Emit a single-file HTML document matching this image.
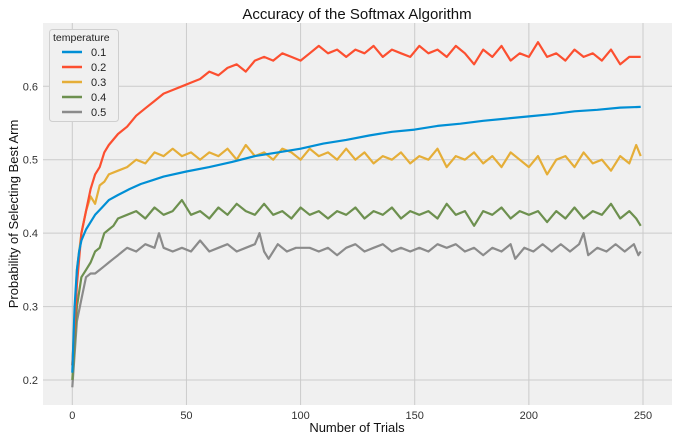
<!DOCTYPE html>
<html><head><meta charset="utf-8"><style>
body{margin:0;background:#fff;}
svg{display:block;font-family:"Liberation Sans","DejaVu Sans",sans-serif;}
</style></head><body>
<svg id="chart" width="677" height="442">
<rect x="43" y="23" width="629" height="382" fill="#f0f0f0"/>
<g id="grid"></g>
<g id="lines"></g>
<text x="357" y="19" text-anchor="middle" font-size="15" fill="#111">Accuracy of the Softmax Algorithm</text>
<text x="357" y="432" text-anchor="middle" font-size="13" fill="#111">Number of Trials</text>
<text transform="translate(18,214) rotate(-90)" text-anchor="middle" font-size="13" fill="#111">Probability of Selecting Best Arm</text>
<g id="legend">
<rect x="49.5" y="29.5" width="69" height="92" rx="3" fill="#f0f0f0" stroke="#cfcfcf"/>
<text x="53" y="41" font-size="10.5" fill="#222">temperature</text>
</g>
</svg>
<script>
const NS="http://www.w3.org/2000/svg";
const xTicks=[0,50,100,150,200,250];
const yTicks=[0.2,0.3,0.4,0.5,0.6];
const labels=["0.1","0.2","0.3","0.4","0.5"];
const colors=["#008fd5","#fc4f30","#e5ae38","#6d904f","#8b8b8b"];
const blueX=[0,1,2,3,4,6,8,10,13,16,20,25,30,35,40,50,60,70,80,90,100,110,120,130,140,150,160,170,180,190,200,210,220,230,240,249];
const blueY=[0.21,0.30,0.35,0.375,0.39,0.405,0.415,0.425,0.435,0.445,0.452,0.46,0.467,0.472,0.477,0.484,0.49,0.497,0.505,0.51,0.515,0.522,0.527,0.533,0.538,0.541,0.546,0.549,0.553,0.556,0.559,0.562,0.566,0.568,0.571,0.572];
const redX=[0,2,4,6,8,10,12,14,16,20,24,28,32,36,40,44,48,52,56,60,64,68,72,76,80,84,88,92,96,100,104,108,112,116,120,124,128,132,136,140,144,148,152,156,160,164,168,172,176,180,184,188,192,196,200,204,208,212,216,220,224,228,232,236,240,244,249];
const redY=[0.22,0.33,0.40,0.43,0.46,0.48,0.49,0.51,0.52,0.535,0.545,0.56,0.57,0.58,0.59,0.595,0.60,0.605,0.61,0.62,0.615,0.625,0.63,0.62,0.635,0.64,0.635,0.645,0.64,0.635,0.645,0.655,0.645,0.65,0.64,0.65,0.645,0.655,0.64,0.65,0.645,0.64,0.655,0.645,0.65,0.64,0.655,0.645,0.63,0.65,0.64,0.655,0.635,0.645,0.64,0.66,0.64,0.645,0.635,0.65,0.64,0.645,0.635,0.65,0.63,0.64,0.64];
const yellowX=[0,2,4,6,8,10,12,14,16,20,24,28,32,36,40,44,48,52,56,60,64,68,72,76,80,84,88,92,96,100,104,108,112,116,120,124,128,132,136,140,144,148,152,156,160,164,168,172,176,180,184,188,192,196,200,204,208,212,216,220,224,228,232,236,240,244,247,249];
const yellowY=[0.22,0.35,0.40,0.43,0.45,0.44,0.465,0.47,0.48,0.485,0.49,0.50,0.495,0.51,0.505,0.515,0.505,0.51,0.50,0.51,0.505,0.515,0.50,0.52,0.505,0.51,0.50,0.515,0.51,0.50,0.515,0.505,0.51,0.50,0.515,0.50,0.51,0.495,0.505,0.50,0.51,0.495,0.505,0.50,0.515,0.49,0.505,0.50,0.51,0.495,0.505,0.49,0.51,0.50,0.49,0.505,0.48,0.50,0.505,0.49,0.51,0.495,0.50,0.485,0.505,0.495,0.52,0.505];
const greenX=[0,2,4,6,8,10,12,14,16,18,20,24,28,32,36,40,44,48,52,56,60,64,68,72,76,80,84,88,92,96,100,104,108,112,116,120,124,128,132,136,140,144,148,152,156,160,164,168,172,176,180,184,188,192,196,200,204,208,212,216,220,224,228,232,236,240,244,247,249];
const greenY=[0.20,0.30,0.34,0.35,0.36,0.375,0.38,0.40,0.405,0.41,0.42,0.425,0.43,0.42,0.435,0.425,0.43,0.445,0.425,0.43,0.42,0.435,0.425,0.44,0.43,0.425,0.44,0.425,0.43,0.42,0.435,0.425,0.43,0.42,0.43,0.425,0.435,0.42,0.43,0.425,0.435,0.42,0.43,0.425,0.43,0.42,0.44,0.425,0.43,0.41,0.43,0.425,0.435,0.42,0.43,0.425,0.43,0.415,0.43,0.42,0.435,0.42,0.43,0.425,0.44,0.42,0.43,0.42,0.41];
const grayX=[0,2,4,6,8,10,12,14,16,18,20,22,24,28,32,36,38,40,44,48,52,56,60,64,68,72,76,80,82,84,86,90,94,98,104,108,112,116,120,124,128,132,136,140,144,148,152,156,160,164,168,172,176,180,184,188,192,194,198,202,206,210,214,218,222,224,226,230,234,238,242,246,248,249];
const grayY=[0.19,0.28,0.31,0.34,0.345,0.345,0.35,0.355,0.36,0.365,0.37,0.375,0.38,0.375,0.385,0.38,0.40,0.38,0.375,0.38,0.375,0.39,0.375,0.38,0.385,0.375,0.38,0.385,0.40,0.375,0.365,0.385,0.375,0.38,0.38,0.375,0.38,0.37,0.38,0.385,0.375,0.38,0.385,0.375,0.38,0.375,0.38,0.375,0.385,0.38,0.385,0.375,0.38,0.37,0.38,0.375,0.385,0.365,0.38,0.375,0.385,0.375,0.385,0.375,0.385,0.40,0.37,0.38,0.375,0.385,0.375,0.385,0.37,0.375];
const seriesX=[blueX,redX,yellowX,greenX,grayX];
const seriesY=[blueY,redY,yellowY,greenY,grayY];

function xs(v){return 72.3+v*(643-72.3)/250;}
function ys(v){return 380-(v-0.2)*(380-86.3)/0.4;}

const grid=document.getElementById('grid');
xTicks.forEach(t=>{
  const l=document.createElementNS(NS,'line');
  l.setAttribute('x1',xs(t));l.setAttribute('x2',xs(t));l.setAttribute('y1',23);l.setAttribute('y2',405);
  l.setAttribute('stroke','#cbcbcb');l.setAttribute('stroke-width','1');
  
  
  grid.appendChild(l);
  const tx=document.createElementNS(NS,'text');
  tx.setAttribute('x',xs(t));tx.setAttribute('y',419);tx.setAttribute('text-anchor','middle');
  tx.setAttribute('font-size','11');tx.setAttribute('fill','#333');tx.textContent=t;
  
  
  grid.appendChild(tx);
});
yTicks.forEach(t=>{
  const l=document.createElementNS(NS,'line');
  l.setAttribute('x1',43);l.setAttribute('x2',672);l.setAttribute('y1',ys(t));l.setAttribute('y2',ys(t));
  l.setAttribute('stroke','#cbcbcb');l.setAttribute('stroke-width','1');
  
  
  grid.appendChild(l);
  const tx=document.createElementNS(NS,'text');
  tx.setAttribute('x',38);tx.setAttribute('y',ys(t)+4);tx.setAttribute('text-anchor','end');
  tx.setAttribute('font-size','11');tx.setAttribute('fill','#333');tx.textContent=t.toFixed(1);
  
  
  grid.appendChild(tx);
});
const lines=document.getElementById('lines');
for(let i=seriesX.length-1;i>=0;i--){
  const p=document.createElementNS(NS,'polyline');
  p.setAttribute('points',seriesX[i].map((x,j)=>xs(x).toFixed(1)+','+ys(seriesY[i][j]).toFixed(1)).join(' '));
  p.setAttribute('fill','none');p.setAttribute('stroke',colors[i]);p.setAttribute('stroke-width','2.2');
  p.setAttribute('stroke-linejoin','round');
  
  
  lines.appendChild(p);
}
const legend=document.getElementById('legend');
labels.forEach((lab,i)=>{
  const y=52+i*15;
  const l=document.createElementNS(NS,'line');
  l.setAttribute('x1',62);l.setAttribute('x2',82);l.setAttribute('y1',y);l.setAttribute('y2',y);
  l.setAttribute('stroke',colors[i]);l.setAttribute('stroke-width','2.5');
  
  
  legend.appendChild(l);
  const tx=document.createElementNS(NS,'text');
  tx.setAttribute('x',91);tx.setAttribute('y',y+4);tx.setAttribute('font-size','11');tx.setAttribute('fill','#222');
  tx.textContent=lab;
  
  
  legend.appendChild(tx);
});
</script>
</body></html>
